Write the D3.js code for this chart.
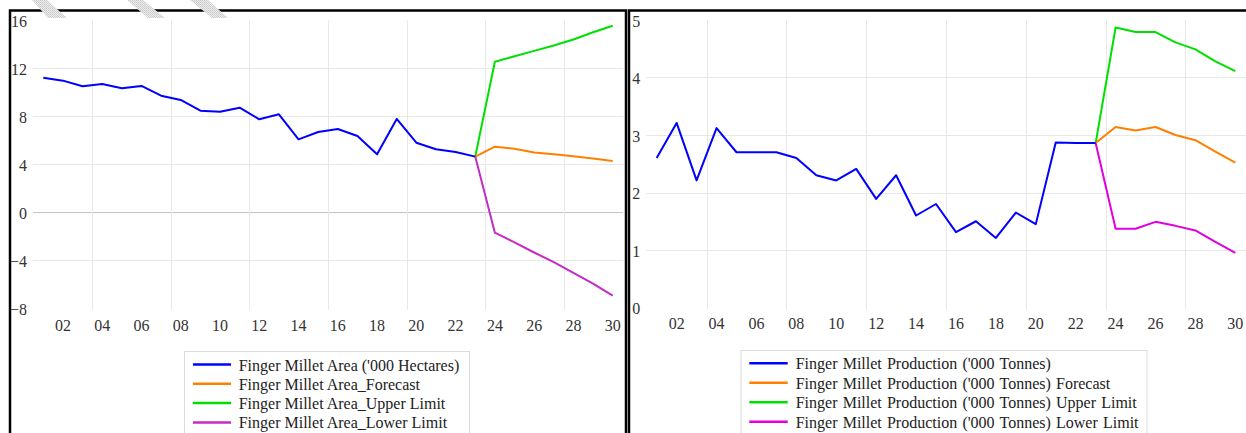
<!DOCTYPE html>
<html><head><meta charset="utf-8">
<script src="https://cdn.jsdelivr.net/npm/d3@7"></script>
<style>
html,body{margin:0;padding:0;background:#fff;}
svg{display:block;}
svg text{font-family:"Liberation Serif","Times New Roman",Times,serif !important;}
</style></head>
<body>
<svg id="c" width="1246" height="433"></svg>
<script>
// ---------- DATA ----------
const years = [2001,2002,2003,2004,2005,2006,2007,2008,2009,2010,2011,2012,2013,2014,2015,
               2016,2017,2018,2019,2020,2021,2022,2023,2024,2025,2026,2027,2028,2029,2030];
const actualYears = [2001,2002,2003,2004,2005,2006,2007,2008,2009,2010,2011,2012,2013,2014,2015,
                     2016,2017,2018,2019,2020,2021,2022,2023];
const forecastYears = [2023,2024,2025,2026,2027,2028,2029,2030];
const xTickLabels = ["02","04","06","08","10","12","14","16","18","20","22","24","26","28","30"];
const xTickYears  = [2002,2004,2006,2008,2010,2012,2014,2016,2018,2020,2022,2024,2026,2028,2030];

// Area ('000 Hectares)
const areaActual   = [11.22,10.97,10.5,10.69,10.33,10.53,9.72,9.36,8.47,8.38,8.72,7.75,8.17,6.08,6.69,
                      6.94,6.36,4.83,7.78,5.8,5.25,5.03,4.64];
const areaForecast = [4.64,5.47,5.3,4.98,4.84,4.67,4.48,4.28];
const areaUpper    = [4.64,12.55,13.0,13.45,13.9,14.4,15.0,15.55];
const areaLower    = [4.64,-1.7,-2.5,-3.35,-4.15,-5.05,-5.95,-6.95];
const areaYTicks   = [16,12,8,4,0,-4,-8];

// Production ('000 Tonnes)
const prodActual   = [2.6,3.21,2.21,3.12,2.7,2.7,2.7,2.6,2.3,2.21,2.41,1.89,2.3,1.6,1.8,
                      1.31,1.5,1.21,1.65,1.45,2.87,2.86,2.86];
const prodForecast = [2.86,3.14,3.08,3.14,3.0,2.91,2.71,2.52];
const prodUpper    = [2.86,4.87,4.79,4.79,4.61,4.49,4.28,4.11];
const prodLower    = [2.86,1.37,1.37,1.49,1.42,1.34,1.14,0.95];
const prodYTicks   = [5,4,3,2,1,0];

const areaNames = ["Finger Millet Area ('000 Hectares)","Finger Millet Area_Forecast",
                   "Finger Millet Area_Upper Limit","Finger Millet Area_Lower Limit"];
const prodNames = ["Finger Millet Production ('000 Tonnes)","Finger Millet Production ('000 Tonnes) Forecast",
                   "Finger Millet Production ('000 Tonnes) Upper Limit","Finger Millet Production ('000 Tonnes) Lower Limit"];

// ---------- DRAW ----------
const FONT = "'Liberation Serif','Times New Roman',Times,serif";
const svg = d3.select("#c");

const defs = svg.append("defs");
const pat = defs.append("pattern").attr("id","hatch").attr("width",2).attr("height",2)
  .attr("patternUnits","userSpaceOnUse");
pat.append("rect").attr("width",2).attr("height",2).attr("fill","#ececec");
pat.append("rect").attr("width",1).attr("height",1).attr("fill","#c8c8c8");
pat.append("rect").attr("x",1).attr("y",1).attr("width",1).attr("height",1).attr("fill","#d2d2d2");

function drawChart(o){
  const g = svg.append("g");
  const x = d3.scaleBand().domain(years).range([o.left,o.right]).padding(0);
  const y = d3.scaleLinear().domain(o.yDomain).range([o.bottom,o.top]);
  const cx = d => x(d)+x.bandwidth()/2;

  g.selectAll("line.hg").data(o.yTicks.filter(v=>v!==o.yDomain[0]&&v!==o.yDomain[1])).enter()
    .append("line").attr("x1",o.left-0.5).attr("x2",o.gridRight)
    .attr("y1",d=>Math.round(y(d))+0.5).attr("y2",d=>Math.round(y(d))+0.5)
    .attr("stroke",d=>d===0?"#c4c4c4":"#e8e8e8").attr("stroke-width",1);
  const vIdx = [3,7,11,15,19,23,27];
  g.selectAll("line.vg").data(vIdx).enter().append("line")
    .attr("x1",i=>Math.round(x(years[i]))+0.5).attr("x2",i=>Math.round(x(years[i]))+0.5)
    .attr("y1",o.top).attr("y2",o.bottom+2)
    .attr("stroke","#e8e8e8").attr("stroke-width",1);

  const ya = d3.axisLeft(y).tickValues(o.yTicks).tickSize(0).tickPadding(0).tickFormat(d3.format("d"));
  const yg = g.append("g").attr("transform",`translate(${o.left-6.5},1)`).call(ya);
  yg.attr("font-family",FONT);
  yg.select(".domain").remove();
  yg.selectAll("text").style("font-family",FONT).attr("font-size",16).attr("fill","#333");

  const xa = d3.axisBottom(x).tickValues(xTickYears).tickSize(0).tickPadding(0)
    .tickFormat((d,i)=>xTickLabels[i]);
  const xg = g.append("g").attr("transform",`translate(0,${o.xLabelBase})`).call(xa);
  xg.attr("font-family",FONT);
  xg.select(".domain").remove();
  xg.selectAll("text").attr("dy",null).attr("y",0).style("font-family",FONT)
    .attr("font-size",16).attr("fill","#333");

  const line = d3.line().x(d=>cx(d[0])).y(d=>y(d[1]));
  const series = [
    {yrs:forecastYears, vals:o.upper, color:o.colors[2]},
    {yrs:forecastYears, vals:o.lower, color:o.colors[3]},
    {yrs:forecastYears, vals:o.forecast, color:o.colors[1]},
    {yrs:actualYears, vals:o.actual, color:o.colors[0]}
  ];
  series.forEach(s=>{
    g.append("path").datum(s.yrs.map((yr,i)=>[yr,s.vals[i]]))
      .attr("d",line).attr("fill","none").attr("stroke",s.color)
      .attr("stroke-width",2).attr("stroke-linejoin","round");
  });

  const lg = g.append("g");
  lg.append("rect").attr("x",o.leg.x+0.5).attr("y",o.leg.y+0.5).attr("width",o.leg.w).attr("height",120)
    .attr("fill","#fff").attr("stroke","#dcdcdc").attr("stroke-width",1);
  o.names.forEach((n,i)=>{
    const base = o.leg.base + i*o.leg.step;
    lg.append("line").attr("x1",o.leg.sx1).attr("x2",o.leg.sx2)
      .attr("y1",base-6).attr("y2",base-6).attr("stroke",o.colors[i]).attr("stroke-width",2.5);
    lg.append("text").attr("x",o.leg.tx).attr("y",base).attr("font-size",16)
      .style("font-family",FONT).style("word-spacing",o.leg.ws+"px").attr("fill","#222").text(n);
  });

  g.append("rect").attr("x",o.frame[0]).attr("y",10.5).attr("width",o.frame[1]-o.frame[0])
    .attr("height",500).attr("fill","none").attr("stroke","#000").attr("stroke-width",2.5);
}

drawChart({
  left:33.5,right:622.5,top:20.3,bottom:308.3,gridRight:623,
  yDomain:[-8,16],yTicks:areaYTicks,xLabelBase:330.5,
  actual:areaActual,forecast:areaForecast,upper:areaUpper,lower:areaLower,
  colors:["#0000ff","#ff8000","#00e000","#c42cc4"],names:areaNames,
  leg:{x:184,y:351,w:285,base:370.5,step:19.3,sx1:193,sx2:231,tx:238.7,ws:0},
  frame:[10,626]
});
drawChart({
  left:646.7,right:1245.3,top:20,bottom:307.5,gridRight:1246,
  yDomain:[0,5],yTicks:prodYTicks,xLabelBase:329,
  actual:prodActual,forecast:prodForecast,upper:prodUpper,lower:prodLower,
  colors:["#0000ff","#ff8000","#00e000","#e000e0"],names:prodNames,
  leg:{x:740.5,y:350,w:406,base:369.3,step:19.45,sx1:749.3,sx2:787.7,tx:795.7,ws:1.2},
  frame:[629,1260]
});

const stripes = [[32,47,48,67],[127,143,148,165],[190,208,212,228]];
svg.selectAll("path.stripe").data(stripes).enter().append("path")
  .attr("d",s=>`M${s[0]},0 L${s[1]},0 L${s[3]},18 L${s[2]},18 Z`)
  .attr("fill","url(#hatch)");
</script>
</body></html>
